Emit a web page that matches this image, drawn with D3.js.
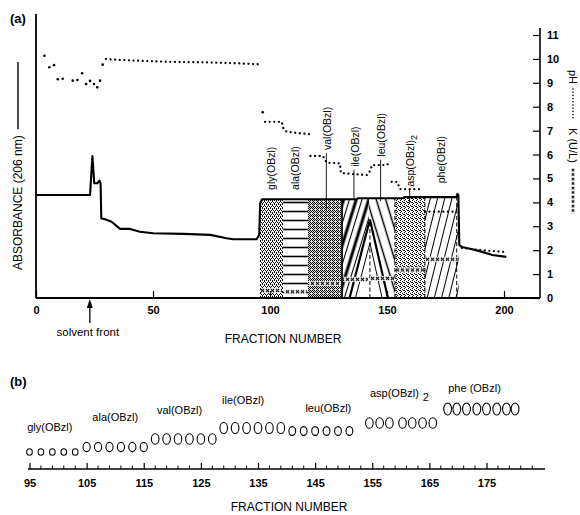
<!DOCTYPE html>
<html>
<head>
<meta charset="utf-8">
<script src="https://cdn.jsdelivr.net/npm/d3@7"></script>
<style>
  html, body { margin: 0; padding: 0; background: #fff; }
  svg { display: block; font-family: "Liberation Sans", Arial, Helvetica, sans-serif; }
</style>
</head>
<body>
<svg id="chart" width="580" height="515"></svg>
<script>
// ---------------- data ----------------
// (a) absorbance trace at 206 nm: [fraction, absorbance]
const absorbance = [
  [0,4.31],[23.1,4.31],[24.1,5.94],[24.9,4.80],[26.2,4.80],[27.1,4.91],[27.6,4.80],
  [27.9,3.33],[29.5,3.29],[32.3,3.19],[35.9,2.89],[40.2,2.89],[44.4,2.77],[50.1,2.71],
  [62.9,2.68],[74.4,2.64],[81.5,2.50],[84.3,2.46],[94.3,2.46],[95.4,2.64],[95.8,3.96],
  [96.6,4.13],[137,4.13],[137.5,4.17],[157,4.17],[157.5,4.22],[179.6,4.22],[180.1,4.36],
  [180.5,4.30],[180.9,2.22],[182,2.13],[186,2.05],[190,1.95],[195,1.80],[201,1.72]
];

// pH readings taken before the column gradient (single points)
const phPoints = [
  [3.6,10.13],[5.7,9.65],[7.7,9.74],[9.3,9.15],[11.4,9.17],[15.7,9.09],[17.7,9.12],
  [19.7,9.40],[21.4,8.95],[23.1,9.08],[24.8,8.95],[26.2,8.81],[27.4,9.09],[28.5,9.76],
  [96.9,7.77]
];
// pH runs recorded continuously (dotted traces)
const phRuns = [
  [[29.9,10.0],[31.6,9.98],[41.6,9.93],[55.8,9.88],[70.1,9.86],[84.3,9.82],[96.4,9.77]],
  [[97.9,7.37],[105,7.37],[105.7,7.10],[107.1,6.95],[116.7,6.85]],
  [[117.3,5.94],[122.6,5.94],[124.2,5.66],[129.9,5.63],[130.3,5.23],[135.5,5.18],
   [141.5,5.14],[142.8,5.32],[143.6,5.56],[150,5.56],[151.3,5.70]],
  [[152,4.86],[154.3,4.86],[155.6,4.55],[164.1,4.55]],
  [[166.2,3.61],[179.9,3.61]],
  [[182,2.09],[190,2.0],[201,1.92]]
];

// eluted benzyl esters
const compounds   = ["gly(OBzl)","ala(OBzl)","val(OBzl)","ile(OBzl)","leu(OBzl)","asp(OBzl)","phe(OBzl)"];
const compoundSub = ["","","","","","2",""];
const regionStart = [95.7,105.6,116.2,130.8,142.3,153.4,166.2];
const regionEnd   = [105.6,116.2,130.8,142.3,153.4,166.2,180.6];
const kValue      = [0.31,0.26,0.61,0.78,0.82,1.17,1.62];

// (b) TLC spots: fractions spotted per compound and migration (Rf)
const spotFractions = [
  [95,97,99,101,103],
  [105,107,109,111,113,115],
  [117,119,121,123,125,127],
  [129,131,133,135,137,139],
  [141,143,145,147,149,151],
  [154.5,156.3,158,160.3,162,163.8,165.6],
  [168.2,169.8,171.5,173.3,175,176.8,178.5,180]
];
const spotRf = [0.17,0.22,0.30,0.41,0.38,0.46,0.60];
const tlcNames = ["gly(OBzl)","ala(OBzl)","val(OBzl)","ile(OBzl)","leu(OBzl)","asp(OBzl)","phe (OBzl)"];

// axis ticks
const fractionTicksA = [0,50,100,150,200];
const rightTicks = [0,1,2,3,4,5,6,7,8,9,10,11];
const fractionTicksB = [95,105,115,125,135,145,155,165,175];
const solventFront = 23;

// ---------------- layout ----------------
const W = 580, H = 515;
const FONT = 11;
const svg = d3.select("#chart");
svg.append("rect").attr("width", W).attr("height", H).attr("fill", "#fff");

const xA = d3.scaleLinear().domain([0, 200]).range([36, 504]);
const yA = d3.scaleLinear().domain([0, 11]).range([298, 35]);
const xB = d3.scaleLinear().domain([95, 175]).range([29.5, 486.5]);
const yB = d3.scaleLinear().domain([0, 1]).range([469, 369]);

// ---------------- fills ----------------
const defs = svg.append("defs");

function stipple(id, bg, cells, size) {
  const p = defs.append("pattern").attr("id", id)
    .attr("patternUnits", "userSpaceOnUse").attr("width", size).attr("height", size);
  p.append("rect").attr("width", size).attr("height", size).attr("fill", bg);
  cells.forEach(([cx, cy]) => p.append("rect").attr("x", cx).attr("y", cy)
    .attr("width", 1).attr("height", 1).attr("fill", "#000"));
}
stipple("fill-gly", "#fff", [[0,0],[2,0],[1,2],[3,2],[0,1],[2,3]], 4);
stipple("fill-val", "#dcdcdc", [[0,0],[2,0],[1,1],[0,2],[2,2],[3,3],[1,3]], 4);
stipple("fill-asp", "#fff", [[0,0],[2,1],[1,3],[3,2],[0,2]], 4);

function hatch(id, spacing, angle, strokes) {
  const p = defs.append("pattern").attr("id", id)
    .attr("patternUnits", "userSpaceOnUse").attr("width", spacing).attr("height", 20)
    .attr("patternTransform", `rotate(${angle})`);
  p.append("rect").attr("width", spacing).attr("height", 20).attr("fill", "#fff");
  strokes.forEach(([x, w]) => p.append("line").attr("x1", x).attr("x2", x)
    .attr("y1", -1).attr("y2", 21).attr("stroke", "#000").attr("stroke-width", w));
}
hatch("fill-ile", 12, 17, [[3, 3], [8.5, 1.1]]);
hatch("fill-leu", 9, -17, [[4.5, 1.5]]);
hatch("fill-phe", 7, 14, [[3.5, 1]]);

{ // horizontal rules
  const p = defs.append("pattern").attr("id", "fill-ala")
    .attr("patternUnits", "userSpaceOnUse").attr("width", 10).attr("height", 9);
  p.append("rect").attr("width", 10).attr("height", 9).attr("fill", "#fff");
  p.append("line").attr("x1", 0).attr("x2", 10).attr("y1", 4.5).attr("y2", 4.5)
    .attr("stroke", "#000").attr("stroke-width", 1.6);
}
const regionFill = ["fill-gly","fill-ala","fill-val","fill-ile","fill-leu","fill-asp","fill-phe"];

// clip: everything under the absorbance trace
const areaGen = d3.area().x(d => xA(d[0])).y0(yA(0)).y1(d => yA(d[1]));
defs.append("clipPath").attr("id", "under-abs")
  .append("path").attr("d", areaGen(absorbance));

// ---------------- panel (a) ----------------
const gA = svg.append("g");

// shaded fractions of each ester
const regions = gA.append("g").attr("clip-path", "url(#under-abs)");
compounds.forEach((c, i) => {
  regions.append("rect")
    .attr("x", xA(regionStart[i])).attr("y", yA(5))
    .attr("width", xA(regionEnd[i]) - xA(regionStart[i]))
    .attr("height", yA(0) - yA(5))
    .attr("fill", `url(#${regionFill[i]})`);
});
// overlap of ile / leu peaks
{
  const a = regionStart[3] + 3.2, m = regionEnd[3] + 0.4, b = regionEnd[4] - 3;
  regions.append("path")
    .attr("d", `M${xA(a)},${yA(0)}L${xA(m)},${yA(3.28)}L${xA(b)},${yA(0)}Z`)
    .attr("fill", "#fff").attr("stroke", "#000").attr("stroke-width", 2.2);
  regions.append("path")
    .attr("d", `M${xA(a + 2.5)},${yA(0)}L${xA(m)},${yA(2.3)}L${xA(b - 2.5)},${yA(0)}`)
    .attr("fill", "none").attr("stroke", "#000").attr("stroke-width", 1);
  regions.append("line").attr("x1", xA(m)).attr("x2", xA(m))
    .attr("y1", yA(0)).attr("y2", yA(3.1))
    .attr("stroke", "#000").attr("stroke-width", 1).attr("stroke-dasharray", "4 2.5");
  // dashed cut lines
  [regionStart[5], regionEnd[5], regionEnd[6] - 0.8].forEach(f => {
    regions.append("line").attr("x1", xA(f)).attr("x2", xA(f))
      .attr("y1", yA(0)).attr("y2", yA(4.3))
      .attr("stroke", "#000").attr("stroke-width", 1).attr("stroke-dasharray", "4 2.5");
  });
  regions.append("line").attr("x1", xA(regionEnd[2])).attr("x2", xA(regionEnd[2]))
    .attr("y1", yA(0)).attr("y2", yA(4.3)).attr("stroke", "#000").attr("stroke-width", 1.6);
}

// K traces (x markers)
kValue.forEach((k, i) => {
  const y0 = yA(k) - 2.5;
  const p = defs.append("pattern").attr("id", "kx" + i)
    .attr("patternUnits", "userSpaceOnUse").attr("x", 0).attr("y", y0)
    .attr("width", 5).attr("height", 5);
  p.append("rect").attr("width", 5).attr("height", 5).attr("fill", "#fff");
  p.append("path").attr("d", "M0.8,0.8L4.2,4.2M4.2,0.8L0.8,4.2")
    .attr("stroke", "#000").attr("stroke-width", 1.1);
  gA.append("rect")
    .attr("x", xA(regionStart[i]) + 1).attr("y", y0)
    .attr("width", xA(regionEnd[i]) - xA(regionStart[i]) - 2).attr("height", 5)
    .attr("fill", `url(#kx${i})`);
});

// pH
const line = d3.line().x(d => xA(d[0])).y(d => yA(d[1]));
phRuns.forEach(run => {
  gA.append("path").attr("d", line(run))
    .attr("fill", "none").attr("stroke", "#000").attr("stroke-width", 2.3)
    .attr("stroke-linecap", "round").attr("stroke-dasharray", "0 4.6");
});
gA.selectAll("circle.ph").data(phPoints).join("circle").attr("class", "ph")
  .attr("cx", d => xA(d[0])).attr("cy", d => yA(d[1])).attr("r", 1.3).attr("fill", "#000");

// absorbance trace
gA.append("path").attr("d", line(absorbance))
  .attr("fill", "none").attr("stroke", "#000").attr("stroke-width", 2.1)
  .attr("stroke-linejoin", "round");

// axes frame
gA.append("line").attr("x1", xA(0)).attr("x2", xA(0)).attr("y1", 14).attr("y2", yA(0))
  .attr("stroke", "#000").attr("stroke-width", 1.8);
gA.append("line").attr("x1", xA(0)).attr("x2", 540).attr("y1", yA(0)).attr("y2", yA(0))
  .attr("stroke", "#000").attr("stroke-width", 1.8);
gA.append("line").attr("x1", 540).attr("x2", 540).attr("y1", 28).attr("y2", yA(0))
  .attr("stroke", "#000").attr("stroke-width", 1.6);

const axA = gA.append("g").attr("transform", `translate(0,${yA(0)})`)
  .call(d3.axisBottom(xA).tickValues(fractionTicksA).tickSize(-7).tickSizeOuter(0).tickPadding(8));
const axR = gA.append("g").attr("transform", "translate(540,0)")
  .call(d3.axisRight(yA).tickValues(rightTicks).tickSize(-7).tickSizeOuter(0).tickPadding(7));
[axA, axR].forEach(ax => {
  ax.select(".domain").remove();
  ax.selectAll(".tick line").attr("stroke", "#000").attr("stroke-width", 1.2);
  ax.selectAll(".tick text").attr("fill", "#000").attr("font-size", FONT)
    .attr("font-weight", "bold").attr("font-family", null);
});

// compound labels with pointers
const labelFrac  = [100.7,110.7,124.5,136.3,147.7,160.1,173.4];
const labelBase  = [4.52,4.52,6.19,5.49,5.91,4.66,4.80];
const pointerEnd = [null,null,3.68,4.1,4.05,3.95,null];
compounds.forEach((c, i) => {
  const t = gA.append("text")
    .attr("transform", `translate(${xA(labelFrac[i])},${yA(labelBase[i])}) rotate(-90)`)
    .attr("dy", "0.35em").attr("font-size", 10.5).attr("fill", "#000").text(c);
  if (compoundSub[i]) t.append("tspan").attr("dy", 3).attr("font-size", 9).text(compoundSub[i]);
  if (pointerEnd[i] !== null) {
    gA.append("line").attr("x1", xA(labelFrac[i]) - 1).attr("x2", xA(labelFrac[i]) - 1)
      .attr("y1", yA(labelBase[i]) + 3).attr("y2", yA(pointerEnd[i]))
      .attr("stroke", "#000").attr("stroke-width", 0.9);
  }
});

// axis titles
const absLabel = gA.append("text").attr("transform", `translate(18,270) rotate(-90)`)
  .attr("dy", "0.35em").attr("font-size", 12).attr("fill", "#000")
  .text("ABSORBANCE (206 nm)");
const absLen = absLabel.node().getComputedTextLength();
gA.append("line").attr("x1", 18).attr("x2", 18)
  .attr("y1", 270 - absLen - 6).attr("y2", 62)
  .attr("stroke", "#000").attr("stroke-width", 1.4);

gA.append("text").attr("x", 283).attr("y", 339).attr("dy", "0.35em")
  .attr("text-anchor", "middle").attr("font-size", 12).attr("fill", "#000")
  .text("FRACTION NUMBER");
gA.append("text").attr("x", 10).attr("y", 18).attr("dy", "0.35em")
  .attr("font-size", 13).attr("font-weight", "bold").attr("fill", "#000").text("(a)");

// solvent front marker
{
  const x = xA(solventFront);
  gA.append("line").attr("x1", x).attr("x2", x).attr("y1", 323).attr("y2", 305)
    .attr("stroke", "#000").attr("stroke-width", 1.3);
  gA.append("path").attr("d", `M${x},${yA(0) + 1}L${x - 3},${yA(0) + 10}L${x + 3},${yA(0) + 10}Z`)
    .attr("fill", "#000");
  gA.append("text").attr("x", x - 2).attr("y", 332).attr("dy", "0.35em")
    .attr("text-anchor", "middle").attr("font-size", 11.5).attr("fill", "#000")
    .text("solvent front");
}

// right legend
{
  const lx = 573;
  gA.append("text").attr("transform", `translate(${lx},70) rotate(90)`).attr("dy", "0.35em")
    .attr("font-size", 11).attr("fill", "#000").text("pH");
  gA.append("line").attr("x1", lx).attr("x2", lx).attr("y1", 89).attr("y2", 120)
    .attr("stroke", "#000").attr("stroke-width", 1.6).attr("stroke-linecap", "round")
    .attr("stroke-dasharray", "0 3.2");
  gA.append("text").attr("transform", `translate(${lx},128) rotate(90)`).attr("dy", "0.35em")
    .attr("font-size", 11).attr("fill", "#000").text("K (U/L)");
  const p = defs.append("pattern").attr("id", "kx-legend")
    .attr("patternUnits", "userSpaceOnUse").attr("x", lx - 2).attr("y", 168)
    .attr("width", 4).attr("height", 4.5);
  p.append("path").attr("d", "M0.7,0.7L3.3,3.3M3.3,0.7L0.7,3.3")
    .attr("stroke", "#000").attr("stroke-width", 1);
  gA.append("rect").attr("x", lx - 2).attr("y", 168).attr("width", 4).attr("height", 46)
    .attr("fill", "url(#kx-legend)");
}

// ---------------- panel (b) ----------------
const gB = svg.append("g");
gB.append("text").attr("x", 10).attr("y", 381).attr("dy", "0.35em")
  .attr("font-size", 13).attr("font-weight", "bold").attr("fill", "#000").text("(b)");

gB.append("line").attr("x1", xB(95) - 1.5).attr("x2", 545).attr("y1", yB(0)).attr("y2", yB(0))
  .attr("stroke", "#000").attr("stroke-width", 1.5);
const axB = gB.append("g").attr("transform", `translate(0,${yB(0)})`)
  .call(d3.axisBottom(xB).tickValues(fractionTicksB).tickSize(-6).tickSizeOuter(0).tickPadding(10));
axB.select(".domain").remove();
axB.selectAll(".tick line").attr("stroke", "#000").attr("stroke-width", 1.2);
axB.selectAll(".tick text").attr("fill", "#000").attr("font-size", FONT)
  .attr("font-weight", "bold").attr("font-family", null);
// minor ticks every second fraction
gB.selectAll("line.minor").data(d3.range(97, 186, 2).filter(f => (f - 95) % 10 !== 0))
  .join("line").attr("class", "minor")
  .attr("x1", d => xB(d)).attr("x2", d => xB(d))
  .attr("y1", yB(0)).attr("y2", yB(0) - 3.5)
  .attr("stroke", "#000").attr("stroke-width", 1);

gB.append("text").attr("x", 289).attr("y", 507).attr("dy", "0.35em")
  .attr("text-anchor", "middle").attr("font-size", 12).attr("fill", "#000")
  .text("FRACTION NUMBER");

// spots
const spotRx = [2.8,3.6,3.8,3.8,3.4,3.8,3.9];
const spotRy = [3.3,4.6,5.3,5.5,4.4,5.3,6.0];
spotFractions.forEach((fr, i) => {
  gB.selectAll(null).data(fr).join("ellipse")
    .attr("cx", d => xB(d)).attr("cy", yB(spotRf[i]))
    .attr("rx", spotRx[i]).attr("ry", spotRy[i])
    .attr("fill", "none").attr("stroke", "#000").attr("stroke-width", 1.1);
});

// spot labels
const tlcLabelFrac = [94.6,106,117.3,128.7,143.3,154.6,168.3];
const tlcLabelPos  = [0.42,0.52,0.59,0.69,0.61,0.76,0.81];
tlcNames.forEach((n, i) => {
  const t = gB.append("text").attr("x", xB(tlcLabelFrac[i])).attr("y", yB(tlcLabelPos[i]))
    .attr("dy", "0.35em").attr("font-size", 11).attr("fill", "#000").text(n);
  if (compoundSub[i]) t.append("tspan").attr("dx", 4).attr("dy", 4).attr("font-size", 11).text(compoundSub[i]);
});
</script>
</body>
</html>
